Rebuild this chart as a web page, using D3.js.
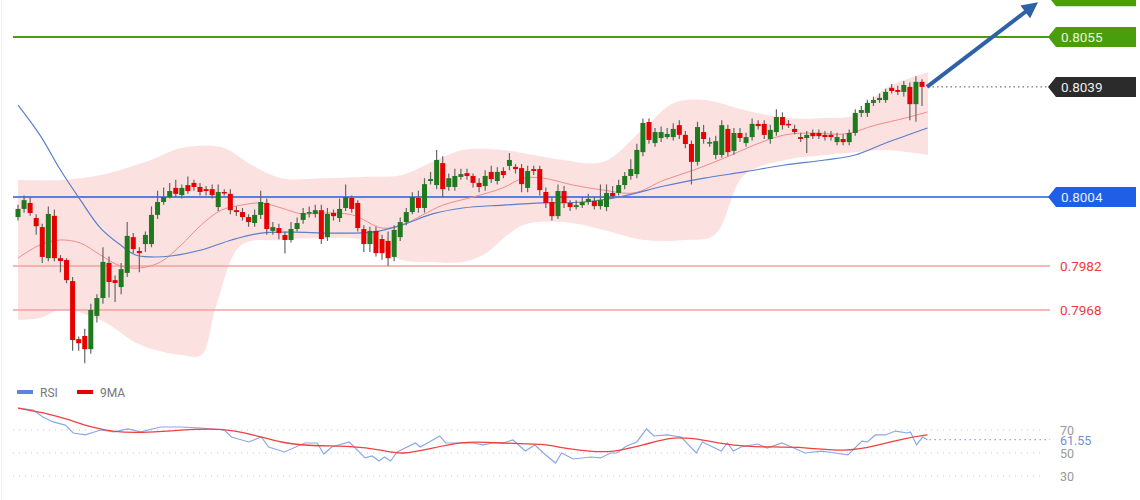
<!DOCTYPE html>
<html><head><meta charset="utf-8">
<script src="https://cdn.jsdelivr.net/npm/d3@7/dist/d3.min.js"></script>
<style>body{margin:0;background:#fff;}svg{display:block;font-family:Roboto,"Liberation Sans",Arial,sans-serif;}</style>
</head><body>
<svg id="c" width="1140" height="500"></svg>
<script>
// prices in pips above 0.7900 (0.8055 -> 155)
const BASE = 0.79, PIP = 0.0001;
const opens = [97.6,100.2,102.1,97.3,94.4,84.5,98.0,84.5,83.9,77.2,58.7,59.7,55.5,66.1,71.8,83.0,77.5,75.3,79.8,91.2,
86.8,89.0,89.0,98.3,102.4,104.0,106.9,104.6,107.8,108.5,107.2,106.5,106.5,100.8,105.6,105.0,99.8,99.2,97.6,95.7,
98.3,102.1,93.2,94.1,91.9,90.3,93.8,96.7,98.9,98.6,99.8,91.2,98.9,97.3,100.5,103.7,102.1,93.8,89.0,93.2,
90.6,90.0,84.9,91.2,96.0,99.2,103.7,100.5,109.1,107.8,114.8,107.2,107.2,110.4,111.6,110.7,108.5,107.5,112.0,109.1,
112.3,113.9,113.6,113.2,106.9,112.9,112.9,105.6,102.4,97.9,105.9,102.1,100.8,101.4,102.4,102.7,101.1,100.8,105.3,105.3,
107.8,110.7,111.3,118.3,127.9,121.2,122.8,123.1,123.1,126.9,123.8,120.9,115.2,124.7,121.2,117.4,117.4,125.7,118.7,124.4,
121.2,123.1,127.3,127.3,122.5,124.7,129.5,127.3,125.7,123.1,122.8,124.4,124.4,123.8,123.8,121.5,122.5,121.5,124.4,130.8,
130.8,134.0,134.9,134.9,138.8,138.1,137.5,139.1,133.6,140.7];
const closes = [100.2,103.0,98.9,94.7,84.9,98.6,84.5,83.6,77.5,58.4,57.4,55.5,68.0,71.8,83.3,76.9,76.6,81.0,91.6,87.4,
86.1,91.9,98.3,102.4,104.0,105.9,105.0,106.9,105.9,107.2,105.6,105.9,104.6,105.6,105.3,99.8,99.2,97.6,96.0,98.3,
102.4,93.8,94.4,92.5,90.3,93.8,95.7,98.9,99.2,99.8,90.6,98.6,97.9,100.2,104.0,100.2,94.1,89.0,93.2,86.1,
86.1,84.5,93.5,96.0,99.2,104.0,100.5,108.1,109.7,115.8,106.5,110.0,110.7,111.3,110.7,108.5,107.2,110.7,109.7,112.0,
111.0,115.8,112.9,108.1,112.3,112.3,106.2,102.1,97.9,105.9,102.1,100.8,101.4,102.4,103.4,101.1,103.0,105.3,104.3,107.8,
110.7,112.9,119.0,127.6,122.2,124.7,124.7,124.1,125.7,123.8,120.9,115.2,126.3,122.5,121.5,121.8,126.9,118.3,124.4,122.8,
123.1,127.3,126.6,123.8,125.4,129.5,126.9,126.9,124.7,122.5,123.8,123.4,123.4,123.1,123.1,123.1,121.5,124.4,130.8,131.7,
134.0,134.9,135.6,137.5,137.8,137.5,139.7,133.6,140.7,139.1];
const highs = [101.5,104.5,104.0,98.5,95.5,101.0,100.0,85.5,84.5,78.5,59.5,62.0,70.0,73.0,88.0,85.0,79.0,83.0,96.0,92.5,
88.0,93.0,101.0,106.0,107.0,108.5,109.5,108.0,110.5,109.5,108.5,107.5,108.0,108.0,106.5,106.5,101.0,100.5,98.5,100.0,
106.0,103.5,96.0,95.5,93.0,96.0,97.5,100.5,101.0,101.5,101.5,100.5,100.0,103.5,108.0,104.5,103.0,95.0,94.5,94.5,
92.0,93.0,95.0,97.5,100.5,105.5,106.0,110.0,112.0,119.0,117.0,111.5,113.0,113.0,113.0,111.5,110.0,112.5,114.0,113.5,
113.5,118.0,114.5,114.5,114.0,114.0,114.0,107.0,104.0,108.0,107.5,103.0,103.0,104.0,105.0,104.0,108.0,108.0,107.5,109.5,
112.0,116.0,121.0,129.0,129.0,126.0,126.5,126.0,127.5,128.5,125.0,122.0,128.0,127.0,123.0,123.5,128.5,127.0,126.0,126.0,
124.5,129.0,128.5,128.5,127.0,132.0,131.0,128.5,127.0,124.5,125.0,125.5,125.5,125.0,125.0,124.5,124.0,125.5,132.0,133.0,
135.0,136.0,137.0,138.5,140.0,139.5,141.0,140.5,142.5,141.5];
const lows = [96.5,99.0,98.0,92.0,83.0,83.5,83.5,80.0,76.5,55.0,55.0,51.0,54.0,64.0,70.0,72.0,70.5,73.0,78.5,86.0,
80.0,86.5,88.0,97.0,101.5,103.5,104.0,103.5,105.0,106.0,104.5,104.5,103.5,99.5,104.5,98.5,98.0,96.5,94.5,94.5,
97.0,92.0,92.0,90.5,86.0,89.5,93.0,95.5,97.5,97.5,89.0,90.0,96.5,96.0,99.5,99.0,93.0,86.5,86.5,85.0,
84.0,82.0,83.5,90.0,95.0,98.5,99.0,99.0,108.0,106.5,104.0,106.0,106.0,109.5,109.5,107.0,105.5,106.0,108.5,108.0,
110.0,112.5,111.5,105.5,105.5,111.0,104.5,100.5,96.5,97.0,100.5,99.5,100.0,100.5,101.5,100.0,100.0,99.5,103.5,104.5,
106.5,109.5,110.0,117.0,121.0,120.0,121.5,122.5,122.0,122.5,119.5,108.0,114.0,121.0,120.0,116.0,116.5,117.0,117.5,121.5,
120.0,122.0,125.5,122.5,121.0,123.5,125.5,126.0,124.0,121.5,118.0,122.5,122.5,122.0,122.0,120.5,120.5,120.5,123.5,129.5,
129.5,133.0,134.0,134.0,137.0,136.5,136.0,128.5,128.0,133.0];

// moving averages and Bollinger bands: [candle index, pips]
const ma50 = [[0,133.3],[3.6,123.8],[7,112.6],[10.3,103.0],[13.6,94.1],[16.9,88.7],[19.4,85.5],[21.9,84.9],[25.2,85.2],[30.2,87.1],
[35.2,90.3],[40.1,92.5],[45.1,92.8],[51.7,92.5],[58.4,92.8],[63.3,95.1],[68.3,98.6],[73.3,100.5],[79.9,101.4],[86.6,102.1],
[93.2,102.4],[99.8,104.3],[106.5,107.5],[113.1,110.0],[119.7,112.0],[126.4,114.2],[133,115.8],[138,117.4],[143,121.2],[149.9,126.0]];
const ma20 = [[0,84.5],[3.6,88.7],[7,90.3],[10.3,89.3],[13.6,85.5],[16.9,82.0],[20.2,81.4],[23.5,83.3],[26.9,88.7],[30.2,95.1],
[33.5,99.8],[36.8,101.4],[40.1,102.1],[43.4,100.5],[46.8,98.6],[50.1,98.9],[55.1,98.3],[60,94.1],[63.3,95.1],[66.7,98.3],
[70,101.4],[75,104.0],[79.9,106.9],[83.3,110.0],[86.6,110.0],[91.5,107.8],[96.5,106.2],[101.5,105.3],[106.5,109.4],[111.4,112.6],
[116.4,116.4],[121.4,120.6],[126.4,123.8],[131.3,124.4],[136.3,124.1],[141.3,126.9],[146.3,129.2],[149.9,131.1]];
const bbUpper = [[0,109.4],[7,109.4],[13.6,111],[21.9,115.8],[26.9,119.6],[33.5,119.9],[38.5,114.2],[43.4,110],[50.1,110],[56.7,110.4],
[63.3,111],[68.3,115.2],[73.3,119],[79.9,119],[84.9,117.4],[89.9,115.8],[96.5,115.2],[103.2,126],[108.1,134],[113.1,134.9],
[119.7,131.7],[126.4,129.2],[133,129.2],[138,130.1],[143,138.7],[150,143.8]];
const bbLower = [[0,64.8],[3.6,65.4],[7,68],[13.6,64.8],[20.2,56.8],[26.9,53.6],[30.2,53.6],[32.7,69.6],[36.8,88.7],[43.4,90.3],
[50.1,90.9],[56.7,90.3],[63.3,83.9],[68.3,83.3],[73.3,83.3],[76.6,85.5],[83.3,95.1],[89.9,96],[96.5,93.5],[103.2,90.3],
[109.8,90.3],[114.8,91.9],[119.7,111],[126.4,115.8],[133,117.4],[138,118.3],[143,119],[150,117.4]];

// RSI panel: [candle index, value]
const rsi = [[0,89],[2.5,87.4],[4.1,81.3],[5.8,77],[7.8,74.3],[9.1,67.4],[11.1,65.7],[13.6,70],[15.8,68.3],[18.1,70.9],
[20.2,68.3],[23.5,72.6],[26.9,72.6],[30.2,71.7],[34,70],[35.2,63.9],[38,59.6],[40.1,63.9],[41.3,55.2],[43.9,50.9],
[47.3,58.7],[49.3,58.7],[50.4,49.1],[51.7,55.2],[54.6,59.6],[57.2,45.7],[58.4,47.4],[59.5,43],[60.4,46.5],[61.4,43],
[62.5,50.9],[65.5,58.7],[66.3,55.2],[67.8,59.6],[69.5,64.8],[70.5,58.7],[73.3,58.7],[75,58.7],[76.6,57],[78.3,58.7],
[79.9,58.7],[81.6,61.3],[83.6,51.7],[85.2,57],[86.6,50],[88.6,41.3],[89.6,50],[91.5,44.8],[94.4,46.5],[96,45.7],
[97.7,50],[98.7,50],[100.3,56.1],[102,59.6],[103.6,70.9],[104.8,64.8],[107,65.7],[109.3,63.9],[111.8,50],[112.8,59.6],
[115.9,51.7],[116.9,58.7],[117.9,51.7],[119.2,55.2],[121.9,57.8],[123.5,54.3],[125.9,58.7],[127.5,55.2],[129.7,50],[132.5,51.7],
[134.7,50],[136.8,48.3],[139.1,60.4],[140,59.6],[141.3,65.7],[143,65.7],[144.6,69.1],[146.6,67.4],[147.1,68.3],[148.1,57],
[149.1,63.9],[149.9,61.55]];
const rsiMA = [[0,89],[5.3,83.9],[8.6,78.7],[11.9,72.6],[15.8,68.3],[20.2,67.4],[26.9,70],[33.5,71.7],[38.5,66.5],[43.4,58.7],
[48.4,56.1],[55.1,56.1],[60,52.6],[63.3,48.3],[68.3,54.3],[73.3,59.6],[76.6,59.6],[83.3,57.8],[86.6,57.8],[89.9,54.3],
[94.9,50.9],[98.2,50.9],[103.2,57],[108.1,64.8],[113.1,61.3],[118.1,56.1],[123,55.2],[129.7,55.2],[136.3,50.9],[141.3,56.1],
[146.3,63],[149.9,65.7]];
const rsiTicks = [70, 50, 30];

const levels = [
 {v:155.5+0, label:"0.8055", color:"#4a9e0c", text:"#e8f5dc", w:2, box:true},
 {v:104, label:"0.8004", color:"#1f5fe6", text:"#e6eeff", w:1.5, box:true},
 {v:82, label:"0.7982", color:"#f4a0a0", text:"#f03a3a", w:1.5, box:false},
 {v:68, label:"0.7968", color:"#f4a0a0", text:"#f03a3a", w:1.5, box:false}];
levels[0].v = 155;
const current = {v:139.1, label:"0.8039"};
const topTarget = {v:168};

const svg = d3.select("#c");
const x = d3.scaleLinear().domain([0,149]).range([18,922]);
const y = d3.scaleLinear().domain([104,155]).range([197,37]);
const yr = d3.scaleLinear().domain([30,70]).range([476,430]);

// band
const lineU = d3.line().x(d=>x(d[0])).y(d=>y(d[1])).curve(d3.curveCatmullRom);
const up = lineU(bbUpper), lo = lineU(bbLower.slice().reverse());
svg.append("path").attr("d", up + "L" + lo.slice(1) + "Z").attr("fill","#fcdcdc").attr("opacity",0.85);

// horizontal levels
levels.forEach(l=>{
  svg.append("line").attr("x1",13).attr("x2",1050).attr("y1",y(l.v)).attr("y2",y(l.v))
    .attr("stroke",l.color).attr("stroke-width",l.w);
});

// MAs
svg.append("path").attr("d",lineU(ma20)).attr("fill","none").attr("stroke","#f28a8a").attr("stroke-width",1);
svg.append("path").attr("d",lineU(ma50)).attr("fill","none").attr("stroke","#5a7fcc").attr("stroke-width",1.2);

// candles
const idx = d3.range(opens.length);
const g = svg.append("g");
idx.forEach(i=>{
  const o=opens[i], c=closes[i], up=c>=o;
  g.append("line").attr("x1",x(i)).attr("x2",x(i)).attr("y1",y(highs[i])).attr("y2",y(lows[i]))
    .attr("stroke","#666").attr("stroke-width",1.2);
  const t=y(Math.max(o,c)), b=y(Math.min(o,c));
  g.append("rect").attr("x",x(i)-2.5).attr("width",5).attr("y",t).attr("height",Math.max(1.5,b-t))
    .attr("fill",up?"#1f7a1f":"#e60000");
});

// current price dotted line
svg.append("line").attr("x1",928).attr("x2",1050).attr("y1",y(current.v)).attr("y2",y(current.v))
  .attr("stroke","#555").attr("stroke-dasharray","1.5,3");

// arrow
const ax1=x(149)+5, ay1=y(current.v), ax2=1038, ay2=y(topTarget.v)+6;
const ang=Math.atan2(ay2-ay1, ax2-ax1);
svg.append("line").attr("x1",ax1).attr("y1",ay1).attr("x2",ax2-12*Math.cos(ang)).attr("y2",ay2-12*Math.sin(ang))
  .attr("stroke","#2e62a6").attr("stroke-width",4);
const hp=[[ax2,ay2],[ax2-16*Math.cos(ang)+8*Math.sin(ang), ay2-16*Math.sin(ang)-8*Math.cos(ang)],
          [ax2-16*Math.cos(ang)-8*Math.sin(ang), ay2-16*Math.sin(ang)+8*Math.cos(ang)]];
svg.append("path").attr("d","M"+hp.map(p=>p.join(",")).join("L")+"Z").attr("fill","#2e62a6");

// label boxes
function box(yc, color, text, tcol){
  const x0=1048, x1=1056, x2=1136, h=10;
  svg.append("path").attr("d",`M${x0},${yc}L${x1},${yc-h}L${x2},${yc-h}L${x2},${yc+h}L${x1},${yc+h}Z`).attr("fill",color);
  if(text) svg.append("text").attr("x",1061).attr("y",yc+5).attr("fill",tcol).attr("font-size",13.5).text(text);
}
box(y(topTarget.v), "#4a9e0c", "", "#fff");
levels.forEach(l=>{
  if(l.box) box(y(l.v), l.color, l.label, l.text);
  else svg.append("text").attr("x",1060).attr("y",y(l.v)+5).attr("fill",l.text).attr("font-size",13.5).text(l.label);
});
box(y(current.v), "#2b2b2b", current.label, "#eeeeee");

// RSI panel
svg.append("rect").attr("x",17).attr("y",390).attr("width",16).attr("height",4).attr("fill","#5b85e0");
svg.append("text").attr("x",40).attr("y",397).attr("font-size",12).attr("fill","#777").text("RSI");
svg.append("rect").attr("x",77).attr("y",390).attr("width",16).attr("height",4).attr("fill","#e60000");
svg.append("text").attr("x",100).attr("y",397).attr("font-size",12).attr("fill","#777").text("9MA");
rsiTicks.forEach(t=>{
  svg.append("line").attr("x1",13).attr("x2",1045).attr("y1",yr(t)).attr("y2",yr(t))
    .attr("stroke",t==70?"#e8b8b8":"#c8c8c8").attr("stroke-dasharray","1,5");
  svg.append("text").attr("x",1060).attr("y",yr(t)+5).attr("font-size",12.5).attr("fill","#999").text(t);
});
const lr = d3.line().x(d=>x(d[0])).y(d=>yr(d[1]));
svg.append("path").attr("d",lr.curve(d3.curveLinear)(rsi)).attr("fill","none").attr("stroke","#8aa8e8").attr("stroke-width",1.2);
svg.append("path").attr("d",d3.line().x(d=>x(d[0])).y(d=>yr(d[1])).curve(d3.curveBasis)(rsiMA)).attr("fill","none").attr("stroke","#f04040").attr("stroke-width",1.3);
const last = rsi[rsi.length-1];
svg.append("line").attr("x1",x(last[0])+2).attr("x2",1050).attr("y1",yr(last[1])).attr("y2",yr(last[1]))
  .attr("stroke","#6a8fe0").attr("stroke-dasharray","1.5,3.5");
svg.append("text").attr("x",1060).attr("y",yr(last[1])+5).attr("font-size",12.5).attr("fill","#7090d8").text(last[1].toFixed(2));
svg.append("line").attr("x1",1.5).attr("x2",1.5).attr("y1",0).attr("y2",500).attr("stroke","#eef0f2");
</script>
</body></html>
